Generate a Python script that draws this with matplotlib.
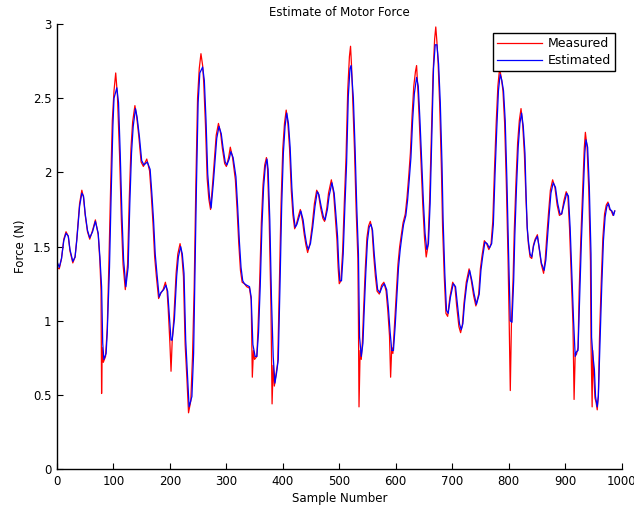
import matplotlib
matplotlib.use("Agg")
import matplotlib.pyplot as plt

# (sample, force) key points
measured_points = [
(0,1.36),(4,1.35),(8,1.42),(12,1.55),(16,1.60),(20,1.57),(23,1.47),(28,1.39),(32,1.43),(35,1.55),(40,1.79),(44,1.88),(47,1.83),(50,1.71),(54,1.60),(58,1.55),(63,1.61),(68,1.68),(73,1.58),(76,1.40),(78,1.20),(79,0.51),(80,0.82),(82,0.72),(86,0.76),(89,0.95),(92,1.40),(95,1.90),(98,2.35),(101,2.55),(104,2.67),(107,2.52),(111,2.10),(114,1.68),(117,1.38),(121,1.21),(125,1.38),(128,1.82),(131,2.16),(134,2.34),(138,2.45),(141,2.38),(145,2.24),(149,2.07),(153,2.04),(159,2.09),(164,2.01),(167,1.85),(170,1.66),(173,1.43),(176,1.30),(180,1.15),(183,1.18),(188,1.21),(192,1.26),(195,1.20),(197,1.08),(200,0.85),(202,0.66),(204,0.86),(207,1.02),(211,1.32),(214,1.45),(218,1.52),(221,1.45),(224,1.30),(227,0.84),(230,0.62),(233,0.38),(237,0.46),(240,0.75),(243,1.22),(246,1.92),(249,2.50),(252,2.70),(255,2.80),(258,2.72),(260,2.60),(263,2.32),(266,1.96),(269,1.82),(272,1.75),(276,1.94),(279,2.10),(282,2.25),(286,2.33),(290,2.26),(293,2.16),(297,2.06),(300,2.04),(304,2.10),(307,2.17),(311,2.10),(316,1.95),(319,1.75),(322,1.52),(325,1.34),(328,1.26),(332,1.25),(336,1.23),(341,1.22),(344,1.14),(346,0.62),(348,0.80),(350,0.74),(354,0.76),(356,0.94),(359,1.26),(362,1.66),(365,1.92),(368,2.05),(371,2.10),(373,2.02),(376,1.66),(379,1.10),(381,0.44),(383,0.70),(385,0.56),(388,0.64),(391,0.72),(394,1.26),(397,1.80),(400,2.16),(403,2.33),(406,2.42),(409,2.33),(412,2.16),(415,1.88),(418,1.71),(421,1.62),(424,1.65),(428,1.71),(431,1.75),(435,1.67),(438,1.58),(441,1.51),(444,1.46),(448,1.52),(452,1.64),(456,1.79),(460,1.88),(463,1.86),(467,1.76),(471,1.69),(474,1.67),(478,1.76),(481,1.86),(486,1.95),(490,1.86),(493,1.70),(496,1.54),(498,1.36),(500,1.25),(503,1.27),(506,1.47),(509,1.80),(512,2.10),(515,2.55),(518,2.78),(520,2.85),(522,2.70),(524,2.48),(527,2.15),(530,1.74),(533,1.42),(534,1.00),(535,0.42),(537,0.80),(539,0.74),(541,0.86),(543,1.06),(546,1.34),(549,1.56),(552,1.64),(555,1.67),(558,1.62),(561,1.44),(564,1.30),(567,1.20),(571,1.18),(575,1.24),(579,1.26),(583,1.20),(586,1.07),(589,0.90),(591,0.62),(593,0.82),(595,0.78),(598,0.98),(601,1.18),(604,1.38),(607,1.50),(610,1.58),(613,1.66),(617,1.72),(620,1.83),(623,1.97),(626,2.13),(629,2.38),(632,2.58),(635,2.68),(637,2.72),(639,2.58),(642,2.33),(645,2.05),(648,1.78),(651,1.56),(654,1.43),(657,1.50),(660,1.80),(663,2.22),(666,2.65),(669,2.90),(671,2.98),(673,2.88),(675,2.75),(678,2.45),(681,2.02),(683,1.64),(686,1.30),(689,1.05),(692,1.03),(696,1.16),(701,1.26),(705,1.23),(708,1.10),(712,0.96),(715,0.92),(718,0.97),(721,1.12),(725,1.26),(730,1.35),(734,1.27),(738,1.17),(742,1.10),(747,1.18),(750,1.35),(753,1.44),(757,1.54),(761,1.52),(765,1.48),(769,1.52),(772,1.67),(775,2.02),(778,2.33),(781,2.58),(784,2.70),(787,2.64),(790,2.55),(793,2.33),(796,1.92),(799,1.42),(801,1.00),(803,0.53),(805,0.98),(808,1.29),(810,1.60),(813,1.93),(816,2.20),(819,2.35),(822,2.43),(825,2.32),(828,2.12),(831,1.80),(833,1.62),(835,1.52),(838,1.43),(841,1.42),(844,1.51),(847,1.55),(851,1.58),(854,1.49),(858,1.38),(862,1.32),(865,1.42),(868,1.59),(871,1.74),(874,1.88),(878,1.95),(882,1.90),(886,1.78),(890,1.71),(894,1.72),(898,1.81),(902,1.87),(905,1.84),(908,1.62),(911,1.30),(914,0.98),(916,0.47),(918,0.78),(920,0.77),(923,0.82),(925,1.20),(928,1.56),(931,1.86),(934,2.16),(936,2.27),(939,2.17),(942,1.88),(945,1.40),(946,0.85),(948,0.42),(949,0.80),(951,0.62),(953,0.48),(955,0.45),(957,0.40),(959,0.50),(961,0.88),(964,1.25),(967,1.56),(970,1.72),(973,1.78),(976,1.80),(979,1.75),(982,1.74),(985,1.71),(988,1.74)]

estimated_points = [
(0,1.40),(4,1.36),(8,1.42),(12,1.54),(16,1.59),(20,1.57),(23,1.48),(28,1.40),(32,1.43),(35,1.54),(40,1.77),(44,1.86),(47,1.84),(50,1.72),(54,1.61),(58,1.56),(63,1.60),(68,1.67),(73,1.59),(76,1.43),(79,1.23),(81,0.85),(83,0.74),(87,0.78),(89,0.92),(93,1.36),(96,1.86),(99,2.31),(101,2.50),(106,2.57),(109,2.47),(112,2.13),(115,1.72),(118,1.41),(122,1.23),(126,1.36),(129,1.79),(132,2.13),(135,2.31),(139,2.43),(142,2.37),(146,2.24),(150,2.08),(154,2.05),(160,2.07),(165,2.02),(168,1.86),(171,1.68),(174,1.45),(177,1.32),(181,1.16),(184,1.19),(189,1.21),(193,1.24),(196,1.20),(198,1.09),(202,0.87),(204,0.87),(208,1.01),(212,1.30),(215,1.43),(219,1.50),(222,1.45),(225,1.32),(228,0.87),(231,0.65),(234,0.42),(239,0.49),(242,0.78),(244,1.23),(247,1.90),(250,2.47),(253,2.67),(258,2.71),(261,2.62),(264,2.35),(267,1.99),(270,1.84),(273,1.76),(277,1.93),(280,2.08),(283,2.23),(287,2.31),(291,2.26),(294,2.17),(298,2.07),(301,2.05),(305,2.09),(308,2.14),(312,2.10),(317,1.97),(320,1.77),(323,1.54),(326,1.36),(329,1.27),(332,1.25),(336,1.24),(341,1.23),(344,1.16),(347,0.84),(351,0.76),(354,0.76),(357,0.92),(360,1.23),(363,1.63),(366,1.90),(369,2.04),(372,2.09),(374,2.02),(377,1.68),(380,1.14),(383,0.76),(386,0.58),(389,0.65),(392,0.74),(395,1.23),(398,1.77),(401,2.13),(404,2.31),(407,2.40),(410,2.33),(413,2.17),(416,1.90),(419,1.72),(422,1.63),(425,1.65),(429,1.70),(432,1.74),(436,1.68),(439,1.59),(442,1.52),(445,1.48),(449,1.52),(453,1.63),(457,1.77),(461,1.87),(464,1.85),(468,1.77),(472,1.70),(475,1.68),(479,1.75),(482,1.84),(487,1.93),(491,1.86),(494,1.72),(497,1.57),(499,1.39),(501,1.27),(504,1.27),(507,1.45),(510,1.77),(513,2.06),(516,2.51),(519,2.70),(521,2.72),(525,2.50),(528,2.17),(531,1.77),(534,1.45),(536,0.89),(539,0.76),(542,0.85),(544,1.05),(547,1.32),(550,1.54),(553,1.63),(556,1.65),(559,1.61),(562,1.45),(565,1.32),(568,1.21),(572,1.19),(576,1.23),(580,1.25),(584,1.21),(587,1.09),(590,0.93),(593,0.80),(596,0.80),(599,0.96),(602,1.16),(605,1.36),(608,1.48),(611,1.57),(614,1.65),(618,1.71),(621,1.81),(624,1.95),(627,2.10),(630,2.35),(633,2.53),(637,2.64),(640,2.58),(643,2.35),(646,2.08),(649,1.81),(652,1.59),(655,1.48),(658,1.52),(661,1.79),(664,2.25),(667,2.70),(670,2.86),(673,2.86),(676,2.73),(679,2.47),(682,2.06),(684,1.68),(687,1.32),(690,1.07),(693,1.05),(697,1.16),(702,1.25),(706,1.23),(709,1.12),(713,0.98),(716,0.94),(719,0.98),(722,1.12),(726,1.25),(731,1.34),(735,1.27),(739,1.18),(743,1.11),(748,1.18),(751,1.34),(754,1.43),(758,1.53),(762,1.52),(766,1.49),(770,1.52),(773,1.65),(776,1.99),(779,2.29),(782,2.55),(785,2.66),(788,2.62),(791,2.55),(794,2.35),(797,1.95),(800,1.45),(803,1.00),(806,0.99),(809,1.27),(811,1.57),(814,1.90),(817,2.17),(820,2.33),(823,2.40),(826,2.31),(829,2.13),(831,1.85),(833,1.63),(835,1.54),(838,1.45),(841,1.43),(844,1.50),(847,1.54),(851,1.57),(854,1.50),(858,1.39),(863,1.34),(866,1.41),(869,1.57),(872,1.72),(875,1.86),(879,1.93),(883,1.90),(887,1.79),(891,1.72),(894,1.72),(899,1.80),(903,1.86),(906,1.84),(909,1.63),(912,1.32),(915,1.01),(918,0.76),(920,0.79),(923,0.80),(926,1.18),(929,1.54),(932,1.84),(935,2.13),(937,2.22),(940,2.17),(943,1.90),(946,1.45),(947,0.89),(949,0.78),(952,0.67),(954,0.49),(957,0.42),(959,0.49),(962,0.85),(965,1.23),(968,1.54),(971,1.70),(974,1.77),(977,1.79),(980,1.75),(983,1.74),(986,1.71),(988,1.74)]

x_ticks = [0, 100, 200, 300, 400, 500, 600, 700, 800, 900, 1000]
y_ticks = [0, 0.5, 1, 1.5, 2, 2.5, 3]
y_tick_labels = ["0", "0.5", "1", "1.5", "2", "2.5", "3"]

mx, my = zip(*measured_points)
ex, ey = zip(*estimated_points)

plt.rcParams['font.family'] = ['DejaVu Sans']
fig = plt.figure(figsize=(6.34, 5.12), dpi=100)
ax = fig.add_axes([57/634, 1-469.2/512, 564.5/634, 445.2/512])

ax.plot(mx, my, color='#ff0000', lw=0.9, label='Measured')
ax.plot(ex, ey, color='#0000ff', lw=0.9, label='Estimated')

ax.set_xlim(0, 1000)
ax.set_ylim(0, 3)
ax.set_xticks(x_ticks)
ax.set_yticks(y_ticks)
ax.set_yticklabels(y_tick_labels)
for s in ['top', 'right']:
    ax.spines[s].set_visible(False)
for s in ['left', 'bottom']:
    ax.spines[s].set_linewidth(1.0)
ax.tick_params(direction='in', length=4.5, width=0.8, labelsize=8.5, pad=4)

ax.set_title('Estimate of Motor Force', fontsize=8.5, pad=6)
ax.set_xlabel('Sample Number', fontsize=8.5, labelpad=3)
ax.set_ylabel('Force (N)', fontsize=8.5, labelpad=4)

leg = ax.legend(loc='upper right', bbox_to_anchor=(0.9885, 0.98), borderaxespad=0,
                fancybox=False, framealpha=1, edgecolor='black', fontsize=9,
                handlelength=3.6, handletextpad=0.4, borderpad=0.35, labelspacing=0.3)
leg.get_frame().set_linewidth(1.0)

fig.savefig('out.png', dpi=100)
